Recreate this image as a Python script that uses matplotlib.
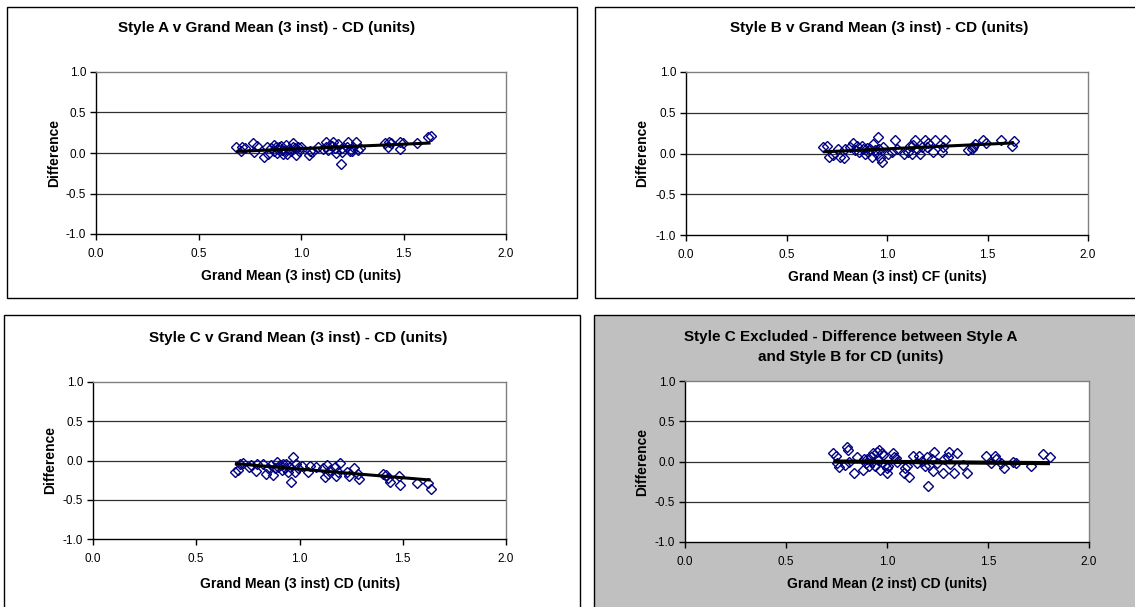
import numpy as np
import matplotlib.pyplot as plt
from matplotlib.patches import Rectangle

plt.rcParams['font.family'] = ['Liberation Sans', 'DejaVu Sans']

W, H = 1135, 607  # output size in pixels

# ---- data ----
# Style A v grand mean (3 inst)
a_x = [0.685, 0.705, 0.714, 0.729, 0.766, 0.770, 0.786, 0.819, 0.832, 0.840,
       0.856, 0.867, 0.870, 0.877, 0.885, 0.890, 0.893, 0.900, 0.905, 0.910,
       0.920, 0.926, 0.932, 0.942, 0.950, 0.960, 0.962, 0.970, 0.975, 0.983,
       0.990, 1.000, 1.040, 1.046, 1.053, 1.084, 1.108, 1.120, 1.124, 1.133,
       1.140, 1.150, 1.157, 1.165, 1.173, 1.181, 1.193, 1.198, 1.200, 1.222,
       1.230, 1.238, 1.250, 1.255, 1.270, 1.279, 1.287, 1.409, 1.425, 1.430,
       1.441, 1.482, 1.482, 1.498, 1.564, 1.621, 1.632]
a_y = [0.07, 0.02, 0.08, 0.06, 0.12, 0.01, 0.09, -0.05, 0.08, -0.01,
       0.06, 0.10, 0.03, 0.07, 0.00, 0.05, 0.08, 0.09, 0.04, -0.01,
       0.04, 0.10, -0.01, 0.05, 0.03, 0.07, 0.12, 0.06, -0.03, 0.08,
       0.03, 0.08, -0.02, 0.03, 0.01, 0.08, 0.05, 0.07, 0.14, 0.04,
       0.10, 0.09, 0.14, 0.06, 0.00, 0.11, -0.14, 0.01, 0.06, 0.08,
       0.14, 0.02, 0.03, 0.08, 0.13, 0.04, 0.06, 0.12, 0.08, 0.14,
       0.12, 0.05, 0.14, 0.12, 0.12, 0.20, 0.21]
a_trend = [0.110, -0.056]  # slope, intercept

# Style B v grand mean (3 inst)
b_x = [0.683, 0.703, 0.713, 0.730, 0.758, 0.766, 0.786, 0.791, 0.816, 0.833,
       0.841, 0.849, 0.862, 0.874, 0.882, 0.891, 0.899, 0.907, 0.915, 0.925,
       0.932, 0.940, 0.949, 0.957, 0.962, 0.965, 0.973, 0.982, 1.007, 1.023,
       1.040, 1.048, 1.085, 1.106, 1.114, 1.123, 1.131, 1.139, 1.148, 1.164,
       1.172, 1.189, 1.197, 1.206, 1.231, 1.239, 1.272, 1.280, 1.289, 1.405,
       1.421, 1.430, 1.438, 1.479, 1.493, 1.565, 1.620, 1.632]
b_y = [0.08, 0.09, -0.04, -0.02, 0.06, -0.04, -0.06, 0.05, 0.08, 0.13,
       0.04, 0.09, 0.02, 0.09, 0.05, -0.01, 0.07, 0.02, 0.06, -0.04,
       0.12, 0.04, 0.00, 0.20, 0.06, -0.06, -0.10, 0.08, -0.01, 0.02,
       0.16, 0.06, -0.01, 0.02, 0.09, 0.00, 0.10, 0.16, 0.06, 0.00,
       0.08, 0.16, 0.08, 0.13, 0.02, 0.17, 0.02, 0.08, 0.17, 0.04,
       0.06, 0.08, 0.12, 0.17, 0.13, 0.17, 0.09, 0.15]
b_trend = [0.116, -0.059]

# Style C v grand mean (3 inst)
c_x = [0.687, 0.703, 0.714, 0.727, 0.756, 0.767, 0.788, 0.792, 0.821, 0.840,
       0.848, 0.864, 0.872, 0.880, 0.892, 0.897, 0.905, 0.913, 0.921, 0.929,
       0.937, 0.945, 0.953, 0.961, 0.969, 0.977, 0.982, 0.994, 1.010, 1.042,
       1.053, 1.082, 1.115, 1.123, 1.131, 1.139, 1.147, 1.171, 1.179, 1.187,
       1.195, 1.228, 1.241, 1.263, 1.284, 1.289, 1.405, 1.421, 1.430, 1.438,
       1.483, 1.486, 1.567, 1.624, 1.635]
c_y = [-0.145, -0.12, -0.04, -0.03, -0.08, -0.06, -0.13, -0.04, -0.04, -0.17,
       -0.10, -0.06, -0.19, -0.10, -0.02, -0.08, -0.06, -0.12, -0.04, -0.10,
       -0.05, -0.145, -0.08, -0.27, 0.05, -0.145, -0.05, -0.10, -0.07, -0.145,
       -0.07, -0.08, -0.10, -0.21, -0.06, -0.17, -0.12, -0.08, -0.20, -0.145,
       -0.03, -0.145, -0.20, -0.09, -0.17, -0.23, -0.17, -0.19, -0.22, -0.27,
       -0.20, -0.31, -0.29, -0.29, -0.36]
c_trend = [-0.221, 0.112]

# Style C excluded: A minus B v grand mean (2 inst)
d_x = [0.734, 0.748, 0.754, 0.764, 0.792, 0.804, 0.809, 0.813, 0.837, 0.853,
       0.879, 0.886, 0.896, 0.903, 0.912, 0.919, 0.926, 0.932, 0.941, 0.949,
       0.957, 0.962, 0.965, 0.974, 0.982, 0.990, 0.998, 1.002, 1.007, 1.028,
       1.035, 1.045, 1.051, 1.084, 1.089, 1.097, 1.111, 1.127, 1.150, 1.157,
       1.172, 1.188, 1.196, 1.205, 1.210, 1.221, 1.229, 1.234, 1.249, 1.276,
       1.282, 1.300, 1.308, 1.312, 1.331, 1.348, 1.378, 1.394, 1.490, 1.513,
       1.535, 1.540, 1.563, 1.579, 1.625, 1.639, 1.711, 1.771, 1.807]
d_y = [0.10, 0.07, -0.02, -0.07, -0.04, 0.18, 0.14, -0.01, -0.14, 0.05,
       -0.10, 0.03, -0.02, 0.03, -0.06, 0.06, -0.01, 0.10, -0.06, 0.12,
       0.02, 0.14, -0.10, 0.10, 0.08, -0.04, -0.14, -0.08, -0.05, 0.10,
       0.06, 0.04, 0.00, -0.14, -0.08, -0.06, -0.19, 0.07, -0.02, 0.07,
       0.01, -0.06, 0.06, -0.31, -0.04, 0.03, -0.12, 0.12, -0.02, -0.14,
       0.03, 0.06, 0.12, -0.03, -0.14, 0.10, -0.04, -0.14, 0.07, -0.02,
       0.07, 0.03, -0.02, -0.08, -0.01, -0.02, -0.05, 0.095, 0.05]
d_trend = [-0.019, 0.014]

ticks = [0.0, 0.5, 1.0, 1.5, 2.0]
yticks = [-1.0, -0.5, 0.0, 0.5, 1.0]


def fx(x):
    return x / W


def fy(y):
    return 1 - y / H


fig = plt.figure(figsize=(W / 100, H / 100), dpi=100)


def panel(frame, box, title, title_xy, xlabel, xlabel_xy, ylabel_xy,
          x, y, trend, bg='white', trend_lw=2.2):
    # chart area border, drawn underneath the axes
    x0, y0, x1, y1 = frame
    fig.patches.append(Rectangle((fx(x0), fy(y1)), (x1 - x0) / W, (y1 - y0) / H,
                                 transform=fig.transFigure, facecolor=bg,
                                 edgecolor='black', lw=1.0, zorder=-1))
    # plot area
    l, t, r, b = box
    ax = fig.add_axes([fx(l), fy(b), (r - l) / W, (b - t) / H])
    ax.set_zorder(1)
    ax.set_facecolor('white')
    ax.set_xlim(0, 2)
    ax.set_ylim(-1, 1)
    ax.set_xticks(ticks)
    ax.set_yticks(yticks)
    ax.set_xticklabels([f'{v:.1f}' for v in ticks])
    ax.set_yticklabels([f'{v:.1f}' for v in yticks])
    ax.tick_params(direction='out', length=4, width=1, labelsize=8.5,
                   colors='black')
    ax.tick_params(axis='x', pad=6)
    ax.tick_params(axis='y', pad=3)
    for v in [0.5, 0.0, -0.5]:
        ax.axhline(v, color='#303030', lw=0.9, zorder=1)
    ax.spines['left'].set_color('black')
    ax.spines['bottom'].set_color('black')
    ax.spines['top'].set_color('#808080')
    ax.spines['right'].set_color('#808080')
    for s in ax.spines.values():
        s.set_linewidth(1.0)

    ax.plot(x, y, linestyle='none', marker='D', markersize=4.6,
            markerfacecolor='none', markeredgecolor='#000080',
            markeredgewidth=1.0, zorder=3)
    xs = np.array([min(x), max(x)])
    ax.plot(xs, trend[0] * xs + trend[1], color='black', lw=trend_lw,
            zorder=4, solid_capstyle='butt')

    fig.text(fx(title_xy[0]), fy(title_xy[1]), title, ha='center', va='center',
             fontsize=11, fontweight='bold', linespacing=1.5)
    fig.text(fx(xlabel_xy[0]), fy(xlabel_xy[1]), xlabel, ha='center',
             va='center', fontsize=10, fontweight='bold')
    fig.text(fx(ylabel_xy[0]), fy(ylabel_xy[1]), 'Difference', ha='center',
             va='center', rotation=90, fontsize=10, fontweight='bold')
    return ax


panel((7, 7, 577, 298), (96, 72, 506, 234),
      'Style A v Grand Mean (3 inst) - CD (units)', (267, 28),
      'Grand Mean (3 inst) CD (units)', (301, 276), (54, 153),
      a_x, a_y, a_trend)

panel((595, 7, 1140, 298), (686, 72, 1088, 235),
      'Style B v Grand Mean (3 inst) - CD (units)', (879, 28),
      'Grand Mean (3 inst) CF (units)', (887, 277), (642, 153),
      b_x, b_y, b_trend)

panel((4, 315, 580, 612), (93, 382, 506, 539),
      'Style C v Grand Mean (3 inst) - CD (units)', (298, 338),
      'Grand Mean (3 inst) CD (units)', (300, 584), (50, 460),
      c_x, c_y, c_trend)

panel((594, 315, 1140, 612), (685, 381, 1089, 542),
      'Style C Excluded - Difference between Style A\nand Style B for CD (units)',
      (851, 347),
      'Grand Mean (2 inst) CD (units)', (887, 584), (642, 462),
      d_x, d_y, d_trend, bg='#c0c0c0', trend_lw=3.0)

fig.savefig('out.png', dpi=100)
